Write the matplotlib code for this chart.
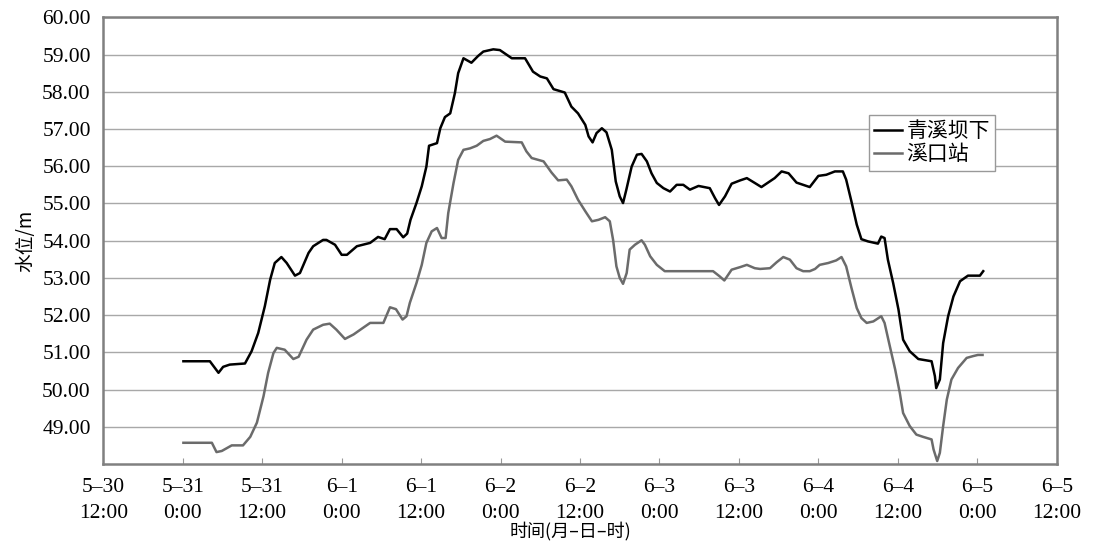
import numpy as np
import matplotlib
matplotlib.use("Agg")
import matplotlib.pyplot as plt

# hours counted from 5-30 12:00
QX_H = [12.1, 16.1, 17.4, 18.1, 19.1, 21.4, 22.4, 23.4, 24.4, 25.2, 25.9, 26.9, 27.7, 28.95,
        29.7, 31.0, 31.7, 33.2, 33.7, 35.0, 36.0, 36.8, 38.3, 40.3, 41.5, 42.5, 43.3, 44.3,
        45.3, 45.9, 46.4, 47.3, 48.1, 48.8, 49.2, 50.4, 50.9, 51.6, 52.4, 53.1, 53.6, 54.4,
        55.6, 56.6, 57.4, 58.9, 59.9, 61.7, 63.7, 64.9, 66.0, 67.0, 68.0, 69.7, 70.7, 71.7,
        72.8, 73.3, 73.9, 74.5, 75.3, 76.0, 76.8, 77.4, 78.0, 78.5, 79.0, 79.8, 80.6, 81.3,
        82.1, 82.8, 83.6, 84.6, 85.6, 86.6, 87.6, 88.6, 89.9, 91.6, 92.4, 93.0, 93.9, 94.9,
        96.2, 97.2, 98.4, 99.4, 100.4, 101.4, 102.45, 103.5, 104.7, 105.7, 106.7, 108.0,
        109.2, 110.5, 111.7, 112.2, 113.0, 113.8, 114.5, 115.5, 117.0, 117.5, 118.0, 118.5,
        119.3, 120.1, 120.8, 121.8, 123.1, 125.1, 125.6, 125.8, 126.35, 126.85, 127.6,
        128.4, 129.4, 130.6, 132.4, 132.9]
QX_V = [50.76, 50.76, 50.45, 50.61, 50.67, 50.70, 51.03, 51.52, 52.24, 52.95, 53.40, 53.56,
        53.40, 53.06, 53.13, 53.67, 53.85, 54.02, 54.02, 53.89, 53.62, 53.62, 53.85, 53.94,
        54.10, 54.04, 54.31, 54.31, 54.09, 54.19, 54.56, 55.01, 55.46, 55.99, 56.55, 56.62,
        57.02, 57.32, 57.42, 57.96, 58.50, 58.90, 58.78, 58.96, 59.08, 59.14, 59.12, 58.90,
        58.90, 58.54, 58.41, 58.36, 58.07, 57.98, 57.60, 57.42, 57.11, 56.80, 56.64, 56.89,
        57.02, 56.91, 56.44, 55.59, 55.19, 55.01, 55.37, 55.99, 56.31, 56.33, 56.13, 55.81,
        55.55, 55.41, 55.32, 55.50, 55.50, 55.37, 55.47, 55.41, 55.14, 54.96, 55.19, 55.53,
        55.62, 55.68, 55.55, 55.44, 55.56, 55.68, 55.86, 55.81, 55.56, 55.50, 55.44, 55.74,
        55.77, 55.86, 55.86, 55.64, 55.05, 54.43, 54.04, 53.98, 53.92, 54.11, 54.07, 53.49,
        52.86, 52.15, 51.34, 51.03, 50.82, 50.76, 50.36, 50.04, 50.27, 51.25, 51.97, 52.50,
        52.91, 53.06, 53.06, 53.18]

XK_H = [12.1, 16.4, 17.1, 17.9, 19.4, 21.1, 22.2, 23.2, 24.2, 24.9, 25.7, 26.2, 27.4, 28.7,
        29.5, 30.7, 31.7, 33.2, 34.2, 35.2, 36.5, 37.8, 39.0, 40.3, 42.3, 43.3, 44.2, 45.2,
        45.8, 46.3, 47.3, 48.1, 48.8, 49.6, 50.4, 51.1, 51.7, 52.1, 52.9, 53.6, 54.4, 55.4,
        56.4, 57.4, 58.4, 59.4, 60.7, 63.2, 63.9, 64.7, 66.5, 67.7, 68.7, 70.0, 70.7, 71.7,
        72.8, 73.8, 74.8, 75.8, 76.5, 77.0, 77.5, 78.0, 78.5, 79.05, 79.5, 80.3, 81.3, 81.8,
        82.6, 83.6, 84.8, 92.1, 93.1, 93.8, 94.9, 96.2, 97.2, 98.4, 99.2, 100.7, 101.7,
        102.7, 103.7, 104.7, 105.7, 106.7, 107.5, 108.2, 109.5, 110.7, 111.5, 112.2, 113.0,
        113.8, 114.5, 115.3, 116.3, 117.5, 118.0, 118.8, 119.6, 120.3, 120.8, 121.8, 122.8,
        123.8, 125.1, 125.4, 125.95, 126.35, 126.85, 127.4, 128.1, 129.1, 130.4, 131.4,
        132.1, 132.8]
XK_V = [48.57, 48.57, 48.32, 48.35, 48.50, 48.50, 48.73, 49.11, 49.82, 50.45, 50.98, 51.12,
        51.07, 50.82, 50.88, 51.34, 51.61, 51.74, 51.77, 51.61, 51.36, 51.48, 51.63, 51.79,
        51.79, 52.21, 52.16, 51.88, 51.97, 52.33, 52.86, 53.35, 53.94, 54.25, 54.34, 54.07,
        54.07, 54.74, 55.55, 56.17, 56.44, 56.48, 56.55, 56.68, 56.73, 56.82, 56.66, 56.64,
        56.40, 56.22, 56.13, 55.83, 55.62, 55.64, 55.46, 55.10, 54.79, 54.52, 54.56, 54.63,
        54.52, 54.02, 53.31, 53.00, 52.84, 53.13, 53.76, 53.89, 54.01, 53.89, 53.58, 53.35,
        53.18, 53.18, 53.04, 52.93, 53.22, 53.29, 53.35, 53.26, 53.24, 53.26, 53.42, 53.56,
        53.49, 53.26, 53.18, 53.18, 53.24, 53.35, 53.40, 53.47, 53.56, 53.31, 52.73, 52.19,
        51.92, 51.79, 51.83, 51.97, 51.79, 51.16, 50.54, 49.91, 49.37, 49.02, 48.79, 48.73,
        48.66, 48.39, 48.08, 48.30, 49.02, 49.73, 50.27, 50.58, 50.85, 50.90, 50.93, 50.93]

X_TICKS = [0, 12, 24, 36, 48, 60, 72, 84, 96, 108, 120, 132, 144]
X_LABELS = ['5–30\n12:00', '5–31\n0:00', '5–31\n12:00', '6–1\n0:00', '6–1\n12:00',
            '6–2\n0:00', '6–2\n12:00', '6–3\n0:00', '6–3\n12:00', '6–4\n0:00',
            '6–4\n12:00', '6–5\n0:00', '6–5\n12:00']
Y_TICKS = list(range(49, 61))

SERIF = 'Liberation Serif'
CJK = ['Noto Sans CJK SC', 'DejaVu Sans']

fig = plt.figure(figsize=(10.93, 5.43), dpi=100)
ax = fig.add_axes([0.0945, 0.1455, 0.8723, 0.8226])

ax.plot(QX_H, QX_V, color='black', lw=1.8, label='青溪坝下')
ax.plot(XK_H, XK_V, color='#6b6b6b', lw=1.8, label='溪口站')

ax.set_xlim(0, 144)
ax.set_ylim(48.0, 60.0)
ax.set_xticks(X_TICKS)
ax.set_xticklabels(X_LABELS, family=SERIF, fontsize=15.5, linespacing=1.5)
ax.set_yticks(Y_TICKS)
ax.set_yticklabels([f'{v:.2f}' for v in Y_TICKS], family=SERIF, fontsize=15.5)
ax.yaxis.grid(True, color='#a8a8a8', lw=1)
ax.set_axisbelow(True)
ax.tick_params(axis='x', direction='in', length=4, color='#999999', pad=10)
ax.tick_params(axis='y', length=0, pad=9)
for s in ax.spines.values():
    s.set_color('#808080')
    s.set_linewidth(1.8)

ax.set_ylabel('水位/m', family=CJK, fontsize=13.5, labelpad=4)
fig.text(0.522, 1 - 531 / 543, '时间(月–日–时)', family=CJK, fontsize=13,
         ha='center', va='center')

leg = ax.legend(loc='upper left', bbox_to_anchor=(0.803, 0.781), prop={'family': CJK, 'size': 15},
                frameon=True, fancybox=False, framealpha=1, edgecolor='#999999',
                handlelength=1.35, handletextpad=0.2, borderpad=0.25, labelspacing=0.05,
                borderaxespad=0)
leg.get_frame().set_linewidth(1)

fig.savefig('out.png', dpi=100)
